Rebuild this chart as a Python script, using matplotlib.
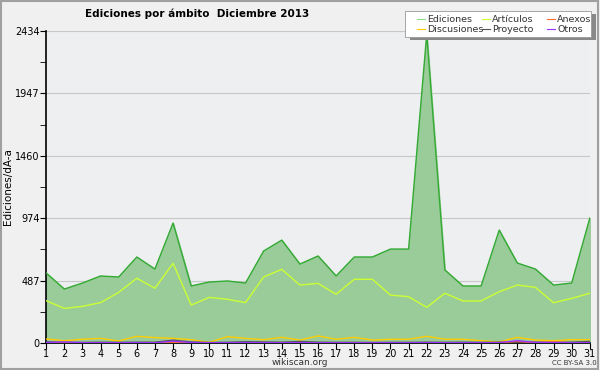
import matplotlib
matplotlib.use("Agg")
import matplotlib.pyplot as plt
from matplotlib.patches import Rectangle

dias = list(range(1, 32))

# total de ediciones (area verde)
ediciones = [546, 421, 468, 523, 515, 671, 577, 936, 445, 476, 484, 468, 718, 803, 616, 679,
             523, 671, 671, 733, 733, 2410, 570, 445, 445, 881, 624, 577, 452, 468, 975]
articulos = [330, 270, 286, 315, 395, 505, 427, 622, 296, 356, 341, 315, 515, 575, 452, 466,
             380, 497, 497, 374, 361, 278, 388, 328, 328, 400, 452, 434, 314, 348, 388]
discusiones = [31, 18, 29, 36, 16, 52, 42, 36, 26, 5, 49, 36, 26, 44, 23, 55,
               29, 44, 23, 29, 29, 52, 29, 29, 18, 8, 44, 23, 18, 26, 26]
proyecto = [8, 5, 4, 6, 5, 6, 6, 22, 8, 4, 5, 10, 8, 6, 12, 6,
            5, 5, 4, 5, 5, 6, 5, 6, 5, 6, 8, 6, 5, 6, 12]
anexos = [2, 1, 2, 1, 1, 2, 1, 3, 1, 1, 1, 2, 1, 1, 2, 1,
          1, 1, 1, 1, 1, 2, 1, 1, 1, 2, 12, 3, 8, 2, 1]
otros = [4, 8, 3, 2, 2, 3, 2, 14, 4, 2, 3, 3, 3, 2, 3, 2,
         2, 2, 2, 2, 2, 3, 2, 2, 2, 3, 18, 4, 3, 2, 2]

yticks = [0, 487, 974, 1460, 1947, 2434]

fig = plt.figure(figsize=(6, 3.7), dpi=100, facecolor="#f0f0f0")
fig.patches.append(Rectangle((0.002, 0.003), 0.995, 0.994, transform=fig.transFigure,
                             fill=False, edgecolor="#a0a0a0", linewidth=1.5))

ax = fig.add_axes([0.077, 0.073, 0.906, 0.843])
ax.set_facecolor("#eeeff1")

ax.fill_between(dias, 0, ediciones, color="#99cc99", zorder=2)
ax.plot(dias, ediciones, color="#33aa33", lw=1, zorder=3)
ax.plot(dias, articulos, color="#ccff33", lw=1, zorder=3)
ax.plot(dias, discusiones, color="#ffcc00", lw=1, zorder=3)
ax.plot(dias, proyecto, color="#555555", lw=1, zorder=3)
ax.plot(dias, anexos, color="#ff6633", lw=1, zorder=3)
ax.plot(dias, otros, color="#9933ff", lw=1, zorder=3)

ax.set_xlim(1, 31)
ax.set_ylim(0, 2434)
ax.set_xticks(dias)
ax.set_yticks(yticks)
ax.set_yticks([v + 243.5 for v in yticks[:-1]], minor=True)
ax.grid(axis="y", color="#c8c8c8", lw=0.8, zorder=1)
ax.tick_params(axis="both", labelsize=7, length=4, pad=0.5, color="black")
ax.tick_params(axis="y", which="minor", length=4)
for s in ["top", "right"]:
    ax.spines[s].set_visible(False)
ax.spines["left"].set_linewidth(1.2)
ax.spines["bottom"].set_linewidth(1.2)
ax.set_ylabel("Ediciones/dÃ-a", fontsize=7.5, labelpad=2)

fig.text(0.329, 0.962, "Ediciones por ámbito  Diciembre 2013", fontsize=7.5,
         fontweight="bold", ha="center", va="center")
fig.text(0.5, 0.02, "wikiscan.org", fontsize=6.5, ha="center", va="center", color="#333333")
fig.text(0.958, 0.02, "CC BY-SA 3.0", fontsize=5, ha="center", va="center", color="#333333")

# leyenda con sombra
fig.patches.append(Rectangle((0.683, 0.892), 0.31, 0.07, transform=fig.transFigure,
                             facecolor="#888888", edgecolor="none", zorder=5))
fig.patches.append(Rectangle((0.675, 0.9), 0.31, 0.07, transform=fig.transFigure,
                             facecolor="white", edgecolor="#999999", lw=0.6, zorder=6))
items = [("Ediciones", "#88dd88"), ("Artículos", "#ccff33"), ("Anexos", "#ff6633"),
         ("Discusiones", "#ffcc00"), ("Proyecto", "#555555"), ("Otros", "#9933ff")]
xs = [0.695, 0.803, 0.912]
ys = [0.948, 0.921]
for i, (nombre, col) in enumerate(items):
    x = xs[i % 3]
    y = ys[i // 3]
    fig.lines.append(plt.Line2D([x, x + 0.013], [y, y], transform=fig.transFigure,
                                color=col, lw=0.8, zorder=7))
    fig.text(x + 0.017, y, nombre, fontsize=6.8, va="center", ha="left",
             color="#333333", zorder=7)

fig.savefig("out.png", dpi=100, facecolor=fig.get_facecolor())
